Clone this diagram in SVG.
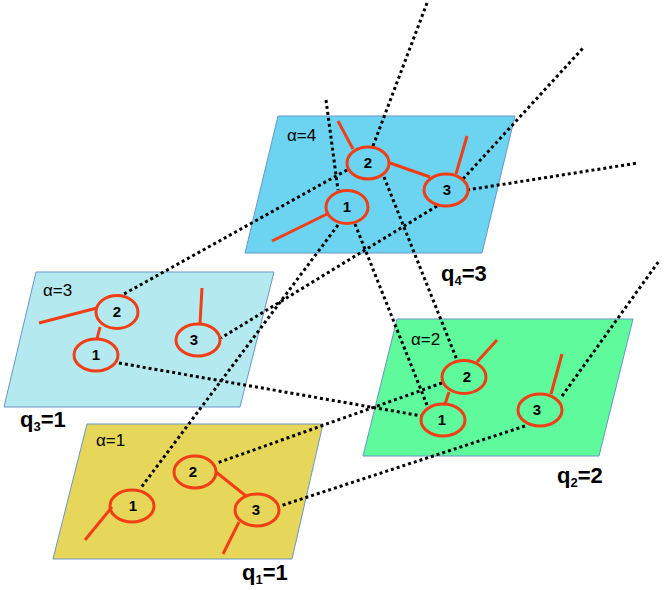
<svg xmlns="http://www.w3.org/2000/svg" width="664" height="590" viewBox="0 0 664 590">
<style>
.plane{stroke:#6A95C9;stroke-width:1}
.n{fill:none;stroke:#F23D15;stroke-width:3}
.e{stroke:#F23D15;stroke-width:3;fill:none}
.d{stroke:#000;stroke-width:3;stroke-dasharray:3 3;fill:none}
.num{font-family:"Liberation Sans",Arial,sans-serif;font-weight:bold;font-size:15px;text-anchor:middle;fill:#000}
.a{font-family:"Liberation Sans",Arial,sans-serif;font-size:17px;fill:#000}
.q{font-family:"Liberation Sans",Arial,sans-serif;font-weight:bold;font-size:22px;fill:#000}
.sub{font-size:13px}
</style>
<rect width="664" height="590" fill="#fff"/>
<g id="plane4">
<polygon class="plane" points="278,116 515,116 482,253 245,253" fill="#6CD3F0"/>
<text class="a" x="287" y="141">α=4</text>
</g>
<g id="plane3">
<polygon class="plane" points="36,272 274,272 240,407 4,407" fill="#B4EAEF"/>
<text class="a" x="43" y="296">α=3</text>
</g>
<g id="plane2">
<polygon class="plane" points="397,319 633,319 599,456 363,456" fill="#5EFA9C"/>
<text class="a" x="411" y="345">α=2</text>
</g>
<g id="plane1">
<polygon class="plane" points="87,424 323,424 292,559 53,559" fill="#E6D75A"/>
<text class="a" x="96" y="446">α=1</text>
</g>
<g id="connectors">
<line class="d" x1="373" y1="146" x2="427" y2="3"/>
<line class="d" x1="384" y1="177" x2="457" y2="360"/>
<line class="d" x1="326" y1="100" x2="338" y2="190"/>
<line class="d" x1="347" y1="170" x2="124" y2="294"/>
<line class="d" x1="338" y1="225" x2="140" y2="489"/>
<line class="d" x1="355" y1="224" x2="427" y2="405"/>
<line class="d" x1="437" y1="206" x2="221" y2="338"/>
<line class="d" x1="463" y1="179" x2="583" y2="48"/>
<line class="d" x1="467" y1="190" x2="638" y2="163"/>
<line class="d" x1="119" y1="363" x2="422" y2="416"/>
<line class="d" x1="442" y1="383" x2="217" y2="463"/>
<line class="d" x1="562" y1="396" x2="659" y2="261"/>
<line class="d" x1="525" y1="426" x2="280" y2="506"/>
</g>
<g id="tree4">
<line class="e" x1="338" y1="121" x2="353" y2="149"/>
<line class="e" x1="390" y1="163" x2="430" y2="177"/>
<line class="e" x1="467" y1="136" x2="456" y2="174"/>
<line class="e" x1="272" y1="241" x2="327" y2="214"/>
</g>
<g id="node4-2"><ellipse class="n" cx="368" cy="163" rx="21" ry="16"/><text class="num" x="368" y="168">2</text></g>
<g id="node4-1"><ellipse class="n" cx="347" cy="207" rx="21" ry="16.5"/><text class="num" x="347" y="212">1</text></g>
<g id="node4-3"><ellipse class="n" cx="446" cy="190" rx="22" ry="16"/><text class="num" x="447" y="195">3</text></g>
<g id="tree3">
<line class="e" x1="39" y1="323" x2="97" y2="308"/>
<line class="e" x1="100" y1="327" x2="97" y2="339"/>
<line class="e" x1="202" y1="288" x2="200" y2="324"/>
</g>
<g id="node3-2"><ellipse class="n" cx="117" cy="312" rx="21" ry="16.5"/><text class="num" x="117" y="317">2</text></g>
<g id="node3-1"><ellipse class="n" cx="96" cy="355" rx="22" ry="16"/><text class="num" x="96" y="360">1</text></g>
<g id="node3-3"><ellipse class="n" cx="198" cy="340" rx="22" ry="16"/><text class="num" x="194" y="345">3</text></g>
<g id="tree2">
<line class="e" x1="497" y1="340" x2="477" y2="362"/>
<line class="e" x1="449" y1="392" x2="445" y2="404"/>
<line class="e" x1="562" y1="354" x2="551" y2="394"/>
</g>
<g id="node2-2"><ellipse class="n" cx="464" cy="377" rx="22" ry="16.5"/><text class="num" x="467" y="382">2</text></g>
<g id="node2-1"><ellipse class="n" cx="443" cy="420" rx="22" ry="16"/><text class="num" x="442" y="425">1</text></g>
<g id="node2-3"><ellipse class="n" cx="540" cy="410" rx="22" ry="16"/><text class="num" x="537" y="415">3</text></g>
<g id="tree1">
<line class="e" x1="85" y1="540" x2="112" y2="507"/>
<line class="e" x1="216" y1="472" x2="246" y2="496"/>
<line class="e" x1="223" y1="554" x2="239" y2="522"/>
</g>
<g id="node1-2"><ellipse class="n" cx="195" cy="472" rx="21" ry="16"/><text class="num" x="193" y="477">2</text></g>
<g id="node1-1"><ellipse class="n" cx="132" cy="506" rx="22" ry="16"/><text class="num" x="133" y="511">1</text></g>
<g id="node1-3"><ellipse class="n" cx="257" cy="510" rx="22" ry="16"/><text class="num" x="256" y="515">3</text></g>
<g id="labels">
<text class="q" x="20" y="427">q<tspan class="sub" dy="4">3</tspan><tspan dy="-4">=1</tspan></text>
<text class="q" x="441" y="281">q<tspan class="sub" dy="4">4</tspan><tspan dy="-4">=3</tspan></text>
<text class="q" x="242" y="580">q<tspan class="sub" dy="4">1</tspan><tspan dy="-4">=1</tspan></text>
<text class="q" x="557" y="483">q<tspan class="sub" dy="4">2</tspan><tspan dy="-4">=2</tspan></text>
</g>
</svg>
